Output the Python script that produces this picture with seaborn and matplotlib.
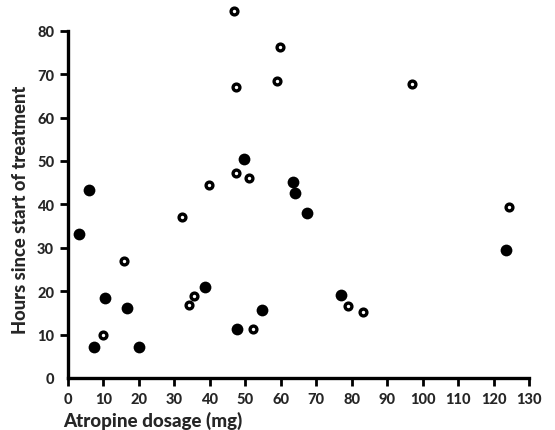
import matplotlib
matplotlib.use("Agg")
import matplotlib.pyplot as plt
import seaborn as sns
import pandas as pd

# Open circles
open_x = [46.7, 47.4, 58.8, 59.8, 47.4, 51.1, 39.8, 32.1, 96.9, 124.3, 15.7, 9.9, 34.0, 35.5, 52.2, 79.0, 83.1]
open_y = [84.5, 67.0, 68.3, 76.3, 47.2, 46.0, 44.5, 37.2, 67.8, 39.5, 26.9, 9.9, 16.7, 19.0, 11.3, 16.6, 15.1]
# Filled circles
filled_x = [6.0, 49.5, 63.4, 64.1, 67.4, 3.1, 10.5, 16.7, 7.3, 20.1, 38.5, 47.7, 54.7, 123.4, 76.9]
filled_y = [43.2, 50.5, 45.2, 42.6, 37.9, 33.2, 18.5, 16.1, 7.1, 7.1, 21.0, 11.3, 15.7, 29.5, 19.1]

x_ticks = list(range(0, 131, 10))
y_ticks = list(range(0, 81, 10))

sns.set_style("white")
plt.rcParams['font.family'] = ['Lato', 'DejaVu Sans']

fig = plt.figure(figsize=(5.55, 4.31), dpi=100)
ax = fig.add_axes([68/555, 52/431, (529-68)/555, (431-52)/431])

df_open = pd.DataFrame({"x": open_x, "y": open_y})
df_fill = pd.DataFrame({"x": filled_x, "y": filled_y})

sns.scatterplot(data=df_fill, x="x", y="y", ax=ax, s=72, color="black",
                edgecolor="black", linewidth=0, clip_on=False, zorder=3)
sns.scatterplot(data=df_open, x="x", y="y", ax=ax, s=24, facecolor="white",
                edgecolor="black", linewidth=2.4, clip_on=False, zorder=3)

ax.set_xlim(0, 130)
ax.set_ylim(0, 87.3)
ax.set_xticks(x_ticks)
ax.set_yticks(y_ticks)
ax.set_xticklabels([str(v) for v in x_ticks], fontsize=10.5, fontweight="black")
ax.set_yticklabels([str(v) for v in y_ticks], fontsize=10.5, fontweight="black")

for side in ["top", "right"]:
    ax.spines[side].set_visible(False)
ax.spines["left"].set_bounds(0, 80)
ax.spines["bottom"].set_bounds(0, 130)
for side in ["left", "bottom"]:
    ax.spines[side].set_linewidth(2.4)
    ax.spines[side].set_color("black")

ax.tick_params(axis="both", which="major", direction="out", length=6, width=2,
               color="black", pad=4, bottom=True, left=True)
ax.yaxis.get_major_ticks()[0].tick1line.set_visible(False)

ax.set_xlabel("Atropine dosage (mg)", fontsize=13.5, fontweight="black")
ax.xaxis.label.set_ha("left")
ax.xaxis.label.set_va("top")
ax.xaxis.set_label_coords(-0.011, -0.087)

ax.set_ylabel("Hours since start of treatment", fontsize=13.2, fontweight="black")
ax.yaxis.label.set_va("center")
ax.yaxis.label.set_ha("center")
ax.yaxis.set_label_coords(-0.104, 0.446)

fig.savefig("out.png", dpi=100)
